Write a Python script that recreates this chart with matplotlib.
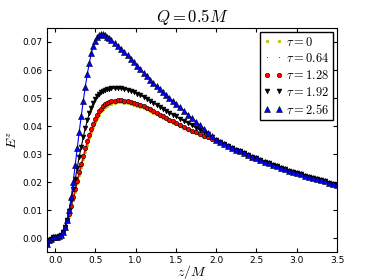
import numpy as np
import matplotlib.pyplot as plt

plt.rcParams['mathtext.fontset'] = 'cm'

# z grid (pieces)
z_head = [-0.1, -0.075, -0.05, -0.025, 0.0, 0.025, 0.05, 0.075, 0.1, 0.125, 0.15]
z_mid = [0.175, 0.2, 0.225, 0.25, 0.275, 0.3, 0.325, 0.35, 0.375, 0.4, 0.425, 0.45,
         0.475, 0.5, 0.525, 0.55, 0.575, 0.6, 0.625, 0.65, 0.675, 0.7,
         0.74, 0.78, 0.82, 0.86, 0.9, 0.94, 0.98, 1.02, 1.06, 1.1, 1.14, 1.18,
         1.22, 1.26, 1.3, 1.34, 1.38, 1.42, 1.46, 1.5,
         1.55, 1.6, 1.65, 1.7, 1.75, 1.8, 1.85, 1.9, 1.95]
z_tail = [2.0, 2.05, 2.1, 2.15, 2.2, 2.25, 2.3, 2.35, 2.4, 2.45, 2.5, 2.55, 2.6,
          2.65, 2.7, 2.75, 2.8, 2.85, 2.9, 2.95, 3.0, 3.05, 3.1, 3.15, 3.2, 3.25,
          3.3, 3.35, 3.4, 3.45, 3.5]

# values shared by all tau at small z and large z
E_head = [-0.0020, -0.0008, -0.0002, 0.0002, 0.0003, 0.0004, 0.0006, 0.0011,
          0.0021, 0.0038, 0.0063]
E_tail = [0.0350, 0.0343, 0.0336, 0.0329, 0.0322, 0.0315, 0.0309, 0.0302, 0.0296,
          0.0290, 0.0284, 0.0278, 0.0272, 0.0267, 0.0261, 0.0256, 0.0251, 0.0246,
          0.0241, 0.0236, 0.0231, 0.0227, 0.0222, 0.0218, 0.0214, 0.0210, 0.0206,
          0.0202, 0.0198, 0.0194, 0.0189]

E_mid_0 = [0.0080, 0.0108, 0.0137, 0.0166, 0.0195, 0.0224, 0.0253, 0.0281, 0.0308,
           0.0333, 0.0356, 0.0377, 0.0396, 0.0413, 0.0428, 0.0441, 0.0452, 0.0461,
           0.0468, 0.0473, 0.0477, 0.0480,
           0.0483, 0.0484, 0.0484, 0.0483, 0.0481, 0.0479, 0.0476, 0.0472, 0.0468,
           0.0464, 0.0459, 0.0454, 0.0448, 0.0442, 0.0436, 0.0430, 0.0424, 0.0418,
           0.0412, 0.0406,
           0.0399, 0.0392, 0.0386, 0.0380, 0.0374, 0.0368, 0.0362, 0.0357, 0.0353]
E_mid_064 = [0.0082, 0.0111, 0.0140, 0.0169, 0.0198, 0.0228, 0.0257, 0.0285, 0.0312,
             0.0337, 0.0360, 0.0381, 0.0400, 0.0417, 0.0432, 0.0445, 0.0456, 0.0464,
             0.0471, 0.0476, 0.0480, 0.0483,
             0.0486, 0.0487, 0.0487, 0.0486, 0.0484, 0.0482, 0.0479, 0.0475, 0.0471,
             0.0466, 0.0461, 0.0456, 0.0450, 0.0444, 0.0438, 0.0432, 0.0426, 0.0420,
             0.0414, 0.0408,
             0.0401, 0.0394, 0.0388, 0.0381, 0.0375, 0.0369, 0.0363, 0.0358, 0.0353]
E_mid_128 = [0.0085, 0.0115, 0.0145, 0.0175, 0.0205, 0.0235, 0.0265, 0.0293, 0.0320,
             0.0345, 0.0368, 0.0389, 0.0408, 0.0425, 0.0439, 0.0452, 0.0462, 0.0470,
             0.0477, 0.0482, 0.0486, 0.0489,
             0.0491, 0.0492, 0.0492, 0.0491, 0.0489, 0.0486, 0.0483, 0.0479, 0.0475,
             0.0470, 0.0465, 0.0459, 0.0453, 0.0447, 0.0441, 0.0435, 0.0429, 0.0423,
             0.0417, 0.0411,
             0.0404, 0.0397, 0.0390, 0.0383, 0.0377, 0.0371, 0.0365, 0.0359, 0.0354]
E_mid_192 = [0.0098, 0.0135, 0.0175, 0.0210, 0.0250, 0.0290, 0.0325, 0.0360, 0.0392,
             0.0420, 0.0445, 0.0466, 0.0483, 0.0497, 0.0507, 0.0515, 0.0521, 0.0526,
             0.0529, 0.0531, 0.0533, 0.0534,
             0.0535, 0.0535, 0.0534, 0.0532, 0.0529, 0.0525, 0.0521, 0.0516, 0.0510,
             0.0504, 0.0497, 0.0490, 0.0483, 0.0476, 0.0469, 0.0462, 0.0455, 0.0448,
             0.0441, 0.0434,
             0.0426, 0.0418, 0.0410, 0.0402, 0.0394, 0.0386, 0.0378, 0.0370, 0.0361]
E_mid_256 = [0.0100, 0.0145, 0.0200, 0.0260, 0.0320, 0.0380, 0.0435, 0.0490, 0.0540,
             0.0585, 0.0625, 0.0660, 0.0685, 0.0705, 0.0717, 0.0724, 0.0727, 0.0727,
             0.0724, 0.0719, 0.0713, 0.0706,
             0.0697, 0.0687, 0.0676, 0.0664, 0.0652, 0.0640, 0.0627, 0.0614, 0.0602,
             0.0590, 0.0578, 0.0566, 0.0554, 0.0543, 0.0532, 0.0521, 0.0510, 0.0500,
             0.0490, 0.0480,
             0.0467, 0.0454, 0.0441, 0.0428, 0.0415, 0.0402, 0.0389, 0.0376, 0.0363]

labels = [r'$\tau=0$', r'$\tau=0.64$', r'$\tau=1.28$', r'$\tau=1.92$', r'$\tau=2.56$']

z = z_head + z_mid + z_tail
series = [E_head + m + E_tail for m in (E_mid_0, E_mid_064, E_mid_128, E_mid_192, E_mid_256)]

fig = plt.figure(figsize=(3.74, 2.80), dpi=100)
ax = fig.add_axes([0.1257, 0.1, 0.7754, 0.8])

styles = [('y', '.', 4, 'y'), ('g', ',', 1, 'g'), ('r', 'o', 3.2, 'k'),
          ('k', 'v', 3.5, 'k'), ('b', '^', 3.7, 'k')]
for E, lab, (c, m, ms, mec) in zip(series, labels, styles):
    ax.plot(z, E, '-', color=c, lw=0.8)
    ax.plot(z, E, linestyle='none', marker=m, color=c, markersize=ms,
            markeredgecolor=mec, markeredgewidth=0.4, label=lab)

ax.set_xlim(-0.1, 3.5)
ax.set_ylim(-0.005, 0.075)
ax.set_xticks(np.arange(0, 3.6, 0.5))
ax.set_yticks(np.arange(0, 0.075, 0.01))
ax.tick_params(direction='in', top=True, right=True, labelsize=6.5, length=3, pad=3)
ax.set_title(r'$Q=0.5M$', fontsize=12, pad=4)
ax.set_xlabel(r'$z/M$', fontsize=10)
ax.xaxis.set_label_coords(0.5, -0.05)
ax.set_ylabel(r'$E^z$', fontsize=10, labelpad=2)

leg = ax.legend(loc='upper right', numpoints=2, fontsize=9, fancybox=False,
                framealpha=1, borderaxespad=0.3, handlelength=1.5,
                labelspacing=0.3, handletextpad=0.3, borderpad=0.3)
leg.get_frame().set_edgecolor('k')

fig.savefig('out.png', dpi=100)
